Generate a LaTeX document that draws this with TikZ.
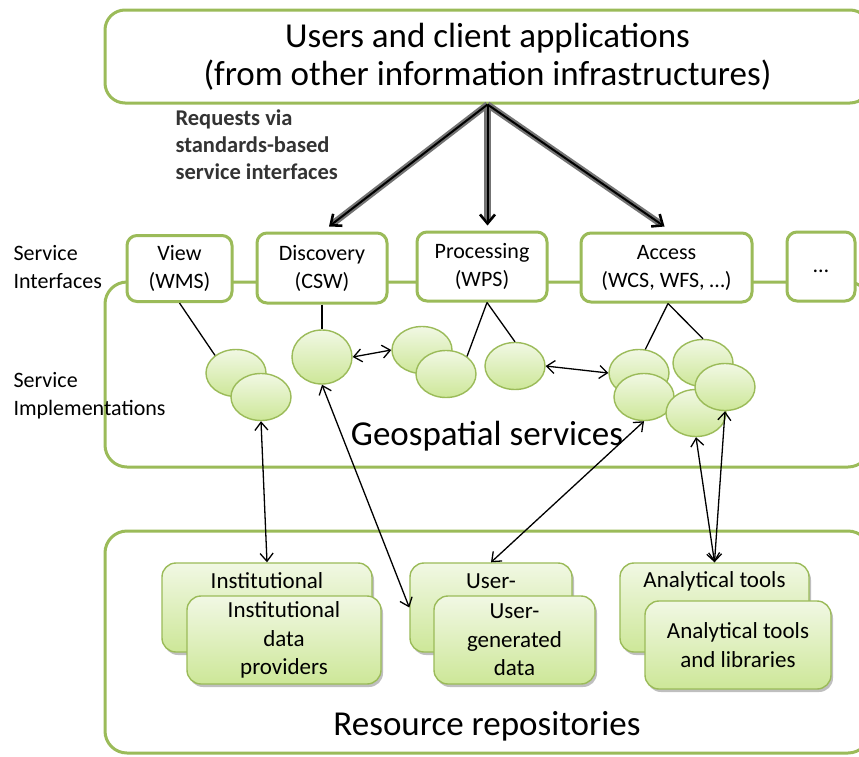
\documentclass[tikz,border=0pt]{standalone}
\usepackage{fontspec}
\setmainfont{Carlito}
\usetikzlibrary{shapes.geometric,arrows.meta,shadows}
\definecolor{ogreen}{RGB}{155,187,89}
\definecolor{ltop}{RGB}{241,248,228}
\definecolor{lbot}{RGB}{205,231,152}
\newcommand\myifs{\fontsize{22}{28}\selectfont}
\newcommand\myrfs{\fontsize{23}{28.5}\selectfont}
\newcommand\mybfs{\fontsize{35}{38}\selectfont}
\tikzset{
  gline/.style={draw=ogreen, line width=3pt},
  bigbox/.style={gline, rounded corners=22pt, inner sep=0pt},
  ibox/.style={gline, fill=white, rounded corners=10pt, inner sep=0pt, align=center, font=\myifs},
  impl/.style={ellipse, draw=ogreen, line width=1.4pt, top color=ltop, bottom color=lbot,
    minimum width=60pt, minimum height=47pt, inner sep=0pt},
  resbox/.style={draw=ogreen, line width=1.4pt, rounded corners=14pt, top color=ltop, bottom color=lbot,
    inner sep=0pt, align=center, font=\myrfs,
    drop shadow={shadow xshift=2pt, shadow yshift=-3pt, opacity=0.25, fill=black}},
  lbl/.style={font=\myifs, align=left, anchor=west},
  conn/.style={draw=black, line width=1.3pt},
  biarr/.style={conn, {Straight Barb[length=8pt,width=13pt]}-{Straight Barb[length=8pt,width=13pt]}},
  reqback/.style={draw=black!55, line width=6.5pt, shorten >=6pt},
  reqfront/.style={draw=black, line width=2pt, -{Straight Barb[length=9pt,width=15pt,line width=2.6pt]}},
}
\begin{document}
\begin{tikzpicture}[x=1pt,y=-1pt]
\useasboundingbox (0,0) rectangle (859,756);
\clip (0,0) rectangle (859,756);
\fill[white] (0,0) rectangle (859,756);

% big containers
\node[bigbox, minimum width=765pt, minimum height=185pt] (geo) at (487.5,374.5) {};
\node[bigbox, minimum width=765pt, minimum height=222pt] (repo) at (487.5,642) {};
\node[gline, fill=white, rounded corners=20pt, inner sep=0pt, minimum width=765pt, minimum height=93pt,
  align=center, font=\mybfs] (top) at (487.5,56.5) {Users and client applications\\(from other information infrastructures)};

% container titles
\node[font=\mybfs] (geot) at (487,436) {Geospatial services};
\node[font=\mybfs] (repot) at (487,726) {Resource repositories};

% left labels
\node[lbl] (sil) at (10,267) {Service\\Interfaces};
\node[lbl] (simpl) at (10,396) {Service\\Implementations};
\node[lbl, text=black!80, font=\fontsize{22.5}{27}\selectfont\bfseries] (req) at (172,145) {Requests via\\standards-based\\service interfaces};

% service interfaces
\node[ibox, minimum width=105pt, minimum height=66pt] (view) at (179.5,268.5) {View\\(WMS)};
\node[ibox, minimum width=130pt, minimum height=70pt] (disc) at (322,268) {Discovery\\(CSW)};
\node[ibox, minimum width=130pt, minimum height=69pt] (proc) at (482,266.5) {Processing\\(WPS)};
\node[ibox, minimum width=171pt, minimum height=69pt] (acc) at (666.5,267.5) {Access\\(WCS, WFS, …)};
\node[ibox, minimum width=68pt, minimum height=69pt] (dots) at (821,266.5) {\strut…};

% request arrows
\draw[reqback] (top.south) -- ([xshift=7pt,yshift=5pt]disc.north);
\draw[reqback] (top.south) -- ([xshift=5.5pt,yshift=5pt]proc.north);
\draw[reqback] (top.south) -- ([xshift=-2pt,yshift=5pt]acc.north);
\draw[reqfront] (top.south) -- ([xshift=7pt,yshift=5pt]disc.north);
\draw[reqfront] (top.south) -- ([xshift=5.5pt,yshift=5pt]proc.north);
\draw[reqfront] (top.south) -- ([xshift=-2pt,yshift=5pt]acc.north);

% service implementations
\node[impl] (v1) at (236,373) {};
\node[impl] (v2) at (261,397) {};
\node[impl, minimum height=54pt] (d1) at (322,357) {};
\node[impl] (p1) at (422,350) {};
\node[impl] (p2) at (446,374) {};
\node[impl] (p3) at (515,366) {};
\node[impl] (a1) at (639,373) {};
\node[impl] (a2) at (644,397) {};
\node[impl] (a3) at (703,363) {};
\node[impl] (a4) at (696,413) {};
\node[impl] (a5) at (725,387) {};

% interface-to-implementation lines
\draw[conn] (view.south) -- (v1.140);
\draw[conn] (disc.south) -- (d1.north);
\draw[conn] ([xshift=5pt]proc.south) -- (p2.40);
\draw[conn] ([xshift=5pt]proc.south) -- (p3.north);
\draw[conn] ([xshift=1.5pt]acc.south) -- (a1.75);
\draw[conn] ([xshift=1.5pt]acc.south) -- (a3.north);

% implementation interactions
\draw[biarr] (d1.east) -- (p1.west);
\draw[biarr] (p3.east) -- (a1.west);

% resource boxes
\node[resbox, minimum width=210pt, minimum height=89pt] (instb) at (267,607.5) {};
\node[font=\myrfs] (instbt) at (267,581) {Institutional};
\node[resbox, minimum width=194pt, minimum height=88pt] (instf) at (284,640) {Institutional\\data\\providers};
\node[resbox, minimum width=162pt, minimum height=89pt] (userb) at (491,607.5) {};
\node[font=\myrfs] (userbt) at (491,581) {User-};
\node[resbox, minimum width=161pt, minimum height=88pt] (userf) at (514.5,640) {User-\\generated\\data};
\node[resbox, minimum width=189pt, minimum height=89pt] (analb) at (714.5,607.5) {};
\node[font=\myrfs] (analbt) at (714.5,581) {Analytical tools};
\node[resbox, minimum width=186pt, minimum height=88pt] (analf) at (738,645) {Analytical tools\\and libraries};

% implementation-to-resource arrows
\draw[biarr] (v2.south) -- (instb.north);
\draw[biarr] (d1.south) -- (userb.west);
\draw[biarr] (a2.south) -- (userb.north);
\draw[biarr] (a4.south) -- (analb.north);
\draw[biarr] (a5.south) -- (analb.north);
\end{tikzpicture}
\end{document}
